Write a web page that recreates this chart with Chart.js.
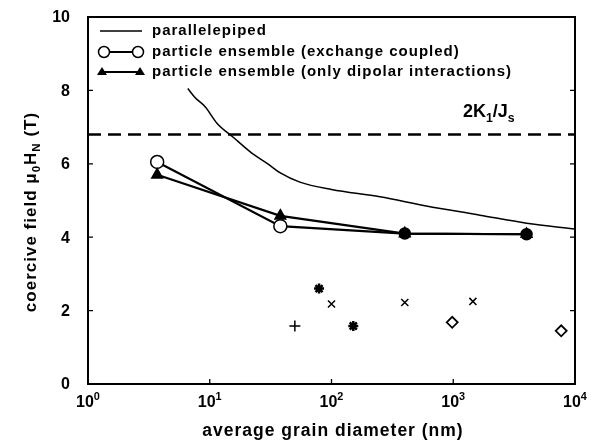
<!DOCTYPE html>
<html>
<head>
<meta charset="utf-8">
<script src="https://cdn.jsdelivr.net/npm/chart.js@4.4.1/dist/chart.umd.min.js"></script>
<style>
  html, body { margin: 0; padding: 0; background: #fff; }
  #wrap { width: 595px; height: 441px; }
</style>
</head>
<body>
<div id="wrap"><canvas id="chart"></canvas></div>
<script>
// values
const decadeTicks = [1, 10, 100, 1000, 10000];
const decadeExps = ["0", "1", "2", "3", "4"];
const yTicks = [0, 2, 4, 6, 8, 10];

const anisoField = 6.8; // 2K1/Js
const anisoX = [1, 10000];

const curveX = [6.6, 7.6, 9.2, 11.5, 15.5, 22, 30, 38, 55, 100, 250, 600, 1660, 4000, 10000];
const curveY = [8.05, 7.8, 7.55, 7.1, 6.73, 6.3, 6.0, 5.75, 5.5, 5.3, 5.1, 4.85, 4.6, 4.38, 4.22];

const exchX = [3.7, 38, 400, 4000];
const exchY = [6.05, 4.3, 4.1, 4.08];

const dipX = [3.7, 38, 400, 4000];
const dipY = [5.7, 4.58, 4.1, 4.08];

const plusX = [50];
const plusY = [1.58];
const starX = [79, 151];
const starY = [2.6, 1.58];
const crossX = [100, 400, 1450];
const crossY = [2.18, 2.22, 2.25];
const diamondX = [980, 7700];
const diamondY = [1.68, 1.45];

const legendLabels = [
  "parallelepiped",
  "particle ensemble (exchange coupled)",
  "particle ensemble (only dipolar interactions)",
];

const pts = (xs, ys) => xs.map((x, i) => ({ x, y: ys[i] }));
const FONT = "'Liberation Sans', Arial, sans-serif";

// draws text pieces with sub/superscripts, left to right from x
function richText(ctx, parts, x, y, size) {
  let cx = x;
  parts.forEach((p) => {
    const s = p.sub || p.sup ? size * 0.68 : size;
    ctx.font = `bold ${s}px ${FONT}`;
    let dy = 0;
    if (p.sub) dy = size * 0.25;
    if (p.sup) dy = -size * 0.45;
    ctx.fillText(p.t, cx, y + dy);
    cx += ctx.measureText(p.t).width;
  });
  return cx - x;
}
function richWidth(ctx, parts, size) {
  let w = 0;
  parts.forEach((p) => {
    const s = p.sub || p.sup ? size * 0.68 : size;
    ctx.font = `bold ${s}px ${FONT}`;
    w += ctx.measureText(p.t).width;
  });
  return w;
}

const decorations = {
  id: "decorations",
  afterDraw(chart) {
    const { ctx, chartArea: a } = chart;
    const xs = chart.scales.x;
    const ys = chart.scales.y;
    ctx.save();
    ctx.strokeStyle = "#000";
    ctx.fillStyle = "#000";

    // frame
    ctx.lineWidth = 2;
    ctx.strokeRect(a.left, a.top, a.right - a.left, a.bottom - a.top);

    // inward ticks
    ctx.lineWidth = 1.3;
    ctx.beginPath();
    yTicks.forEach((v) => {
      const py = ys.getPixelForValue(v);
      ctx.moveTo(a.left, py); ctx.lineTo(a.left + 5, py);
      ctx.moveTo(a.right, py); ctx.lineTo(a.right - 5, py);
    });
    decadeTicks.forEach((v) => {
      const px = xs.getPixelForValue(v);
      ctx.moveTo(px, a.bottom); ctx.lineTo(px, a.bottom - 5);
    });
    ctx.stroke();

    // y tick labels
    ctx.font = `bold 16px ${FONT}`;
    ctx.textAlign = "right";
    ctx.textBaseline = "middle";
    yTicks.forEach((v) => {
      ctx.fillText(String(v), a.left - 18, ys.getPixelForValue(v) + 1);
    });

    // x tick labels 10^n
    ctx.textBaseline = "alphabetic";
    ctx.textAlign = "left";
    decadeTicks.forEach((v, i) => {
      const parts = [{ t: "10" }, { t: decadeExps[i], sup: true }];
      const w = richWidth(ctx, parts, 16);
      richText(ctx, parts, xs.getPixelForValue(v) - w / 2, 407, 16);
    });

    // x title
    ctx.letterSpacing = "1px";
    ctx.font = `bold 17.5px ${FONT}`;
    ctx.textAlign = "center";
    ctx.fillText("average grain diameter (nm)", 333, 436);

    // y title, rotated
    ctx.save();
    ctx.translate(36, 212);
    ctx.rotate(-Math.PI / 2);
    ctx.textAlign = "left";
    const yParts = [
      { t: "coercive field \u03bc" }, { t: "0", sub: true },
      { t: "H" }, { t: "N", sub: true }, { t: " (T)" },
    ];
    const yw = richWidth(ctx, yParts, 17);
    richText(ctx, yParts, -yw / 2, 0, 17);
    ctx.restore();
    ctx.letterSpacing = "0px";

    // 2K1/Js annotation
    ctx.textAlign = "left";
    richText(ctx, [
      { t: "2K" }, { t: "1", sub: true }, { t: "/J" }, { t: "s", sub: true },
    ], 463, 117, 18);

    // legend
    const rows = [31, 52, 72];
    rows.forEach((ry, i) => {
      ctx.beginPath();
      ctx.moveTo(i === 0 ? 100 : 104, ry);
      ctx.lineTo(i === 0 ? 142 : 138, ry);
      ctx.lineWidth = i === 0 ? 1.5 : 2;
      ctx.stroke();
      if (i === 1) {
        ctx.lineWidth = 1.5;
        [104, 138].forEach((mx) => {
          ctx.beginPath();
          ctx.arc(mx, ry, 5.5, 0, Math.PI * 2);
          ctx.fillStyle = "#fff";
          ctx.fill();
          ctx.stroke();
        });
        ctx.fillStyle = "#000";
      }
      if (i === 2) {
        [102, 140].forEach((mx) => {
          ctx.beginPath();
          ctx.moveTo(mx, ry - 5);
          ctx.lineTo(mx + 5, ry + 3);
          ctx.lineTo(mx - 5, ry + 3);
          ctx.closePath();
          ctx.fill();
        });
      }
      ctx.letterSpacing = "1px";
      ctx.font = `bold 15px ${FONT}`;
      ctx.textBaseline = "middle";
      ctx.fillText(legendLabels[i], 152, ry);
      ctx.letterSpacing = "0px";
    });
    ctx.restore();
  },
};

new Chart(document.getElementById("chart"), {
  type: "scatter",
  data: {
    datasets: [
      {
        label: "2K1/Js",
        data: pts(anisoX, [anisoField, anisoField]),
        showLine: true,
        borderColor: "#000",
        borderWidth: 2.5,
        borderDash: [13, 7],
        pointRadius: 0,
      },
      {
        label: legendLabels[0],
        data: pts(curveX, curveY),
        showLine: true,
        borderColor: "#000",
        borderWidth: 1.5,
        cubicInterpolationMode: "monotone",
        pointRadius: 0,
      },
      {
        label: legendLabels[2],
        data: pts(dipX, dipY),
        showLine: true,
        borderColor: "#000",
        borderWidth: 2.2,
        pointStyle: "triangle",
        pointRadius: 5.5,
        pointBackgroundColor: "#000",
        pointBorderColor: "#000",
      },
      {
        label: legendLabels[1],
        data: pts(exchX, exchY),
        showLine: true,
        borderColor: "#000",
        borderWidth: 2.2,
        pointStyle: "circle",
        pointRadius: [6.5, 6.5, 5.5, 5.5],
        pointBorderWidth: 1.5,
        pointBackgroundColor: ["#fff", "#fff", "#000", "#000"],
        pointBorderColor: "#000",
      },
      {
        label: "plus",
        data: pts(plusX, plusY),
        pointStyle: "cross",
        pointRadius: 5.5,
        borderColor: "#000",
        pointBorderWidth: 1.5,
      },
      {
        label: "star",
        data: pts(starX, starY),
        pointStyle: "star",
        pointRadius: 5,
        borderColor: "#000",
        pointBorderWidth: 2.5,
      },
      {
        label: "cross",
        data: pts(crossX, crossY),
        pointStyle: "crossRot",
        pointRadius: 5,
        borderColor: "#000",
        pointBorderWidth: 1.5,
      },
      {
        label: "diamond",
        data: pts(diamondX, diamondY),
        pointStyle: "rectRot",
        pointRadius: 5.5,
        borderColor: "#000",
        backgroundColor: "#fff",
        pointBorderWidth: 1.8,
      },
    ],
  },
  options: {
    responsive: true,
    maintainAspectRatio: false,
    animation: false,
    layout: { autoPadding: false, padding: { top: 17, right: 20, left: 0, bottom: 0 } },
    plugins: {
      legend: { display: false },
      tooltip: { enabled: false },
    },
    scales: {
      x: {
        type: "logarithmic",
        min: 1,
        max: 10000,
        afterBuildTicks: (s) => { s.ticks = decadeTicks.map((v) => ({ value: v })); },
        afterFit: (s) => { s.height = 57; },
        ticks: { display: false },
        grid: { display: false },
        border: { display: false },
      },
      y: {
        type: "linear",
        min: 0,
        max: 10,
        afterBuildTicks: (s) => { s.ticks = yTicks.map((v) => ({ value: v })); },
        afterFit: (s) => { s.width = 88; },
        ticks: { display: false },
        grid: { display: false },
        border: { display: false },
      },
    },
  },
  plugins: [decorations],
});
</script>
</body>
</html>
